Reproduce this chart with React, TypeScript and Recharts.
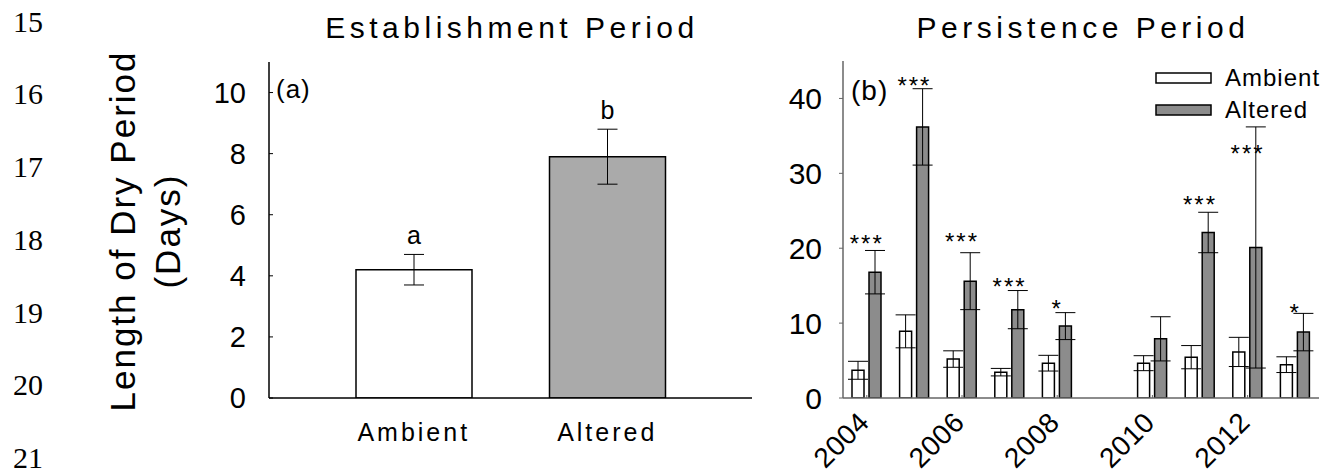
import React from 'react';
import {
  BarChart,
  ComposedChart,
  Bar,
  Scatter,
  XAxis,
  YAxis,
  ErrorBar,
  Cell,
  LabelList,
  Legend,
} from 'recharts';

// ---------- data ----------
const lineNumbers = ['15', '16', '17', '18', '19', '20', '21'];

const estCategories = ['Ambient', 'Altered'];
const estValues = [4.2, 7.9];
const estErrors = [0.5, 0.9];
const estLetters = ['a', 'b'];
const estTicks = [0, 2, 4, 6, 8, 10];

const years = ['2004', '2005', '2006', '2007', '2008', '2009', '2010', '2011', '2012', '2013'];
const ambientValues = [3.7, 8.9, 5.2, 3.45, 4.65, null, 4.65, 5.45, 6.15, 4.45];
const ambientErrors = [1.2, 2.2, 1.1, 0.5, 1.05, null, 1.0, 1.55, 1.95, 1.05];
const alteredValues = [16.8, 36.2, 15.6, 11.8, 9.6, null, 7.9, 22.1, 20.1, 8.8];
const alteredErrors = [2.9, 5.1, 3.8, 2.55, 1.8, null, 2.95, 2.7, 16.1, 2.5];
const sigLabels = ['***', '***', '***', '***', '*', '', '', '***', '***', '*'];
const sigLevels = [21.2, 42.3, 21.5, 15.5, 12.5, null, null, 26.4, 33.3, 12.0];
const perTicks = [0, 10, 20, 30, 40];
const seriesNames = ['Ambient', 'Altered'];

// ---------- styles ----------
const FONT = '"Liberation Sans", Arial, Helvetica, sans-serif';
const SERIF = '"Liberation Serif", "Times New Roman", serif';
const estFills = ['#ffffff', '#aaaaaa'];
const AMB_FILL = '#ffffff';
const ALT_FILL = '#8c8c8c';
const FRAME2 = '#666666';

const estData = estCategories.map((name, i) => ({
  name,
  value: estValues[i],
  err: estErrors[i],
  letter: estLetters[i],
}));

const perData = years.map((year, i) => ({
  year,
  ambient: ambientValues[i],
  ambientErr: ambientErrors[i],
  altered: alteredValues[i],
  alteredErr: alteredErrors[i],
  sig: sigLabels[i],
  sigLevel: sigLevels[i],
}));

// ---------- custom renderers ----------
const YLabel = () => (
  <g fontFamily={FONT} fill="#000">
    <text
      transform="translate(135,231) rotate(-90)"
      textAnchor="middle"
      fontSize={35}
      letterSpacing={2}
    >
      Length of Dry Period
    </text>
    <text
      transform="translate(180,231) rotate(-90)"
      textAnchor="middle"
      fontSize={35}
      letterSpacing={2}
    >
      (Days)
    </text>
  </g>
);

const LetterLabel = (props: any) => {
  const { x, y, width, height, value, index } = props;
  const v = estValues[index];
  const e = estErrors[index];
  if (v == null || !height) return null;
  const pxPerUnit = height / v;
  const errTop = y - e * pxPerUnit;
  return (
    <text
      x={x + width / 2}
      y={errTop - 10}
      textAnchor="middle"
      fontSize={25}
      fontFamily={FONT}
      fill="#000"
    >
      {value}
    </text>
  );
};

const YearTick = (props: any) => {
  const { x, y, payload } = props;
  const ax = x + 4;
  const ay = y + 29;
  return (
    <text
      x={ax}
      y={ay}
      transform={`rotate(-45, ${ax}, ${ay})`}
      textAnchor="end"
      fontSize={28}
      fontFamily={FONT}
      fill="#000"
      letterSpacing={0.5}
    >
      {payload.value}
    </text>
  );
};

const SigShape = (props: any) => {
  const { cx, cy, payload } = props;
  if (!payload || !payload.sig || !Number.isFinite(cx) || !Number.isFinite(cy)) return <g />;
  return (
    <text
      x={cx}
      y={cy + 13}
      textAnchor="middle"
      fontSize={24}
      fontFamily={FONT}
      fill="#000"
      letterSpacing={2}
    >
      {payload.sig}
    </text>
  );
};

const LegendContent = () => {
  const fills = [AMB_FILL, ALT_FILL];
  return (
    <div style={{ fontFamily: FONT }}>
      {seriesNames.map((name, i) => (
        <div key={name} style={{ display: 'flex', alignItems: 'center', height: 32 }}>
          <svg width={57} height={12} style={{ display: 'block' }}>
            <rect x={1} y={1} width={55} height={10} fill={fills[i]} stroke="#000" strokeWidth={1.5} />
          </svg>
          <span style={{ marginLeft: 13, fontSize: 24, letterSpacing: 1, color: '#000', lineHeight: '32px' }}>
            {name}
          </span>
        </div>
      ))}
    </div>
  );
};

export default function App() {
  return (
    <div style={{ position: 'absolute', left: 0, top: 0, width: 1330, height: 473, background: '#fff' }}>
      {/* Left panel: Establishment Period */}
      <div style={{ position: 'absolute', left: 0, top: 0 }}>
        <BarChart width={760} height={473} data={estData} margin={{ top: 62, right: 8, bottom: 15, left: 0 }}>
          <XAxis
            dataKey="name"
            height={60}
            padding={{ left: 48, right: 48 }}
            axisLine={{ stroke: '#000', strokeWidth: 1.5 }}
            tickLine={false}
            tickSize={0}
            tickMargin={25}
            interval={0}
            tick={{ fontSize: 25, fill: '#000', fontFamily: FONT, letterSpacing: 3 }}
          />
          <XAxis
            xAxisId="top"
            orientation="top"
            dataKey="name"
            height={0}
            padding={{ left: 48, right: 48 }}
            tick={false}
            tickLine={false}
            axisLine={{ stroke: '#000', strokeWidth: 1.5 }}
          />
          <YAxis
            width={269}
            domain={[0, 11]}
            ticks={estTicks}
            allowDataOverflow
            axisLine={{ stroke: '#000', strokeWidth: 1.5 }}
            tickLine={{ stroke: '#000', strokeWidth: 1 }}
            tickSize={-4}
            tickMargin={27}
            tick={{ fontSize: 29, fill: '#000', fontFamily: FONT }}
            label={<YLabel />}
          />
          <YAxis
            yAxisId="right"
            orientation="right"
            width={0}
            domain={[0, 11]}
            tick={false}
            tickLine={false}
            axisLine={{ stroke: '#000', strokeWidth: 1.5 }}
          />
          <Bar dataKey="value" barSize={116} stroke="#000" strokeWidth={1.5} isAnimationActive={false}>
            {estData.map((d, i) => (
              <Cell key={d.name} fill={estFills[i]} />
            ))}
            <ErrorBar dataKey="err" width={10} stroke="#000" strokeWidth={1} />
            <LabelList dataKey="letter" content={LetterLabel} />
          </Bar>
        </BarChart>
      </div>

      {/* Right panel: Persistence Period */}
      <div style={{ position: 'absolute', left: 700, top: 0 }}>
        <ComposedChart
          width={630}
          height={473}
          data={perData}
          margin={{ top: 61, right: 11, bottom: 15, left: 0 }}
          barGap={5}
          barCategoryGap={9}
        >
          <XAxis
            dataKey="year"
            height={60}
            interval={1}
            axisLine={{ stroke: FRAME2, strokeWidth: 1.5 }}
            tickLine={{ stroke: FRAME2, strokeWidth: 1 }}
            tickSize={-3}
            tickMargin={0}
            tick={<YearTick />}
          />
          <XAxis
            xAxisId="top"
            orientation="top"
            dataKey="year"
            height={0}
            tick={false}
            tickLine={false}
            axisLine={{ stroke: FRAME2, strokeWidth: 1.5 }}
          />
          <YAxis
            width={143}
            domain={[0, 45]}
            ticks={perTicks}
            allowDataOverflow
            axisLine={{ stroke: FRAME2, strokeWidth: 1.5 }}
            tickLine={{ stroke: FRAME2, strokeWidth: 1 }}
            tickSize={4}
            tickMargin={17}
            tick={{ fontSize: 30, fill: '#000', fontFamily: FONT }}
          />
          <YAxis
            yAxisId="right"
            orientation="right"
            width={0}
            domain={[0, 45]}
            tick={false}
            tickLine={false}
            axisLine={{ stroke: FRAME2, strokeWidth: 1.5 }}
          />
          <Bar
            dataKey="ambient"
            name={seriesNames[0]}
            fill={AMB_FILL}
            stroke="#000"
            strokeWidth={1.5}
            barSize={12}
            isAnimationActive={false}
          >
            <ErrorBar dataKey="ambientErr" width={10} stroke="#000" strokeWidth={1} />
          </Bar>
          <Bar
            dataKey="altered"
            name={seriesNames[1]}
            fill={ALT_FILL}
            stroke="#000"
            strokeWidth={1.5}
            barSize={12}
            isAnimationActive={false}
          >
            <ErrorBar dataKey="alteredErr" width={10} stroke="#000" strokeWidth={1} />
          </Bar>
          <Scatter dataKey="sigLevel" shape={<SigShape />} legendType="none" isAnimationActive={false} />
          <Legend
            layout="vertical"
            align="center"
            verticalAlign="middle"
            wrapperStyle={{ position: 'absolute', left: 455, top: 62, width: 170 }}
            content={<LegendContent />}
          />
        </ComposedChart>
      </div>

      {/* Overlay texts: manuscript line numbers, panel titles, panel tags */}
      <svg
        width={1330}
        height={473}
        style={{ position: 'absolute', left: 0, top: 0, pointerEvents: 'none' }}
      >
        {lineNumbers.map((n, i) => (
          <text key={n} x={13} y={31.7 + i * 72.7} fontSize={30} fontFamily={SERIF} fill="#000">
            {n}
          </text>
        ))}
        <text x={512} y={38} textAnchor="middle" fontSize={30} fontFamily={FONT} letterSpacing={4.5} fill="#000">
          Establishment Period
        </text>
        <text x={1083} y={38} textAnchor="middle" fontSize={30} fontFamily={FONT} letterSpacing={4.5} fill="#000">
          Persistence Period
        </text>
        <text x={276} y={98} fontSize={26} fontFamily={FONT} letterSpacing={1} fill="#000">
          (a)
        </text>
        <text x={851} y={100} fontSize={28} fontFamily={FONT} letterSpacing={1} fill="#000">
          (b)
        </text>
      </svg>
    </div>
  );
}
